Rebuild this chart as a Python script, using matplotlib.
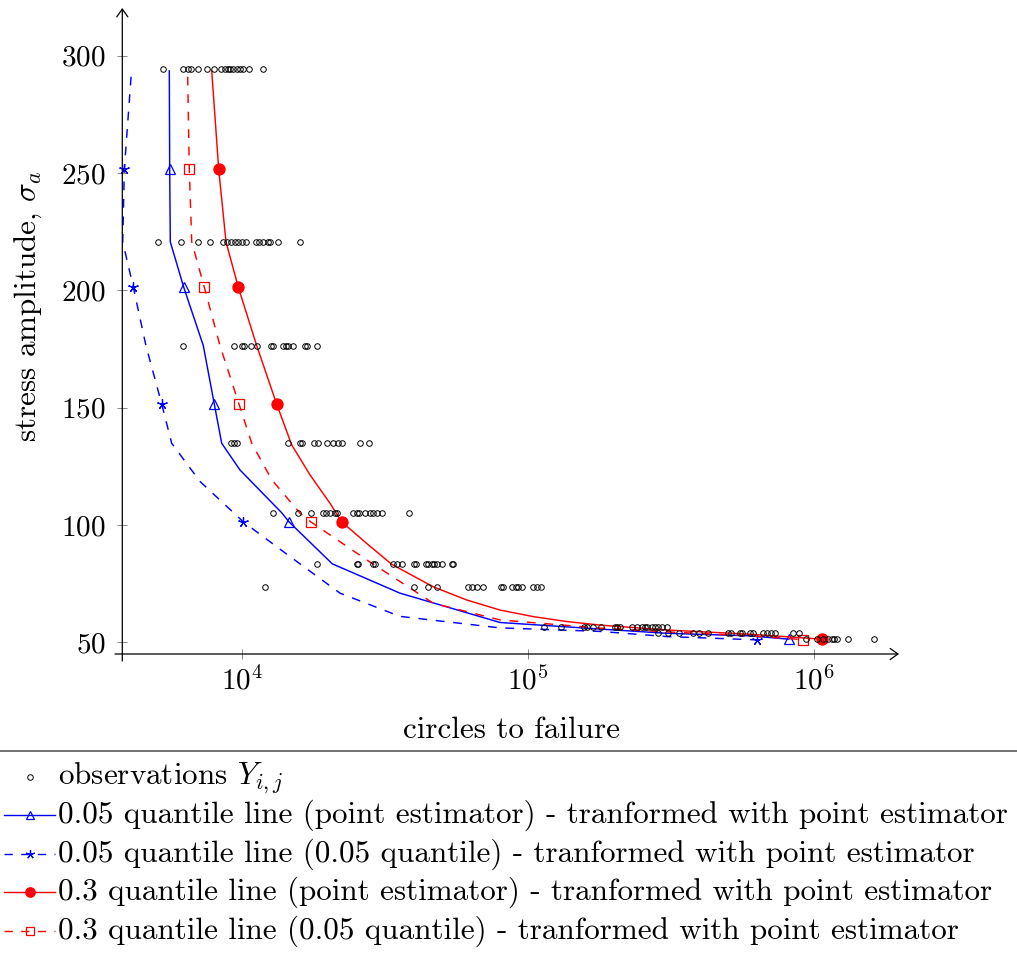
import matplotlib
matplotlib.use('Agg')
import matplotlib.pyplot as plt
from matplotlib.lines import Line2D
from matplotlib.ticker import NullLocator

plt.rcParams['font.family'] = 'serif'
plt.rcParams['font.serif'] = ['cmr10']
plt.rcParams['mathtext.fontset'] = 'cm'
plt.rcParams['axes.formatter.use_mathtext'] = True
plt.rcParams['font.size'] = 22

# ---------------- data ----------------
obs_levels = [294.5, 220.6, 176.4, 134.8, 105.2, 83.2, 73.6, 56.4, 54.0, 51.3]
obs_294 = [5290, 6216, 6440, 6600, 6980, 7505, 7980, 8420, 8700, 8890, 9060, 9300, 9560, 9815, 10080, 10550, 11845]
obs_220 = [5080, 6100, 6980, 7700, 8580, 8860, 9130, 9430, 9680, 10000, 10300, 11170, 11470, 11845, 12330, 12500, 13370, 15920]
obs_176 = [6185, 9375, 9950, 10140, 10725, 11280, 12570, 12780, 13920, 14190, 14490, 15085, 16580, 16890, 18220]
obs_135 = [9130, 9350, 9605, 14490, 15920, 16140, 17870, 18360, 19740, 20820, 21680, 22280, 25820, 27770]
obs_105 = [12780, 15630, 17400, 19110, 19630, 20280, 21110, 21400, 24460, 25140, 25610, 26880, 27990, 28740, 29690, 30900, 38320]
obs_84 = [18220, 25140, 25470, 28740, 29140, 33600, 34700, 36300, 39900, 40550, 43850, 44780, 46030, 46880, 47900, 49890, 54050, 54780]
obs_74 = [12010, 39990, 44780, 47900, 61800, 63830, 66130, 69750, 80460, 81960, 87700, 90570, 92470, 95060, 104350, 107200, 111050]
obs_56 = [113760, 130130, 157040, 160500, 169300, 179700, 201600, 205400, 209900, 230700, 240300, 250000, 256700, 261600, 271000, 278300, 285800, 293800, 307300]
obs_54 = [284400, 308300, 337700, 378900, 396800, 427600, 502400, 513300, 552100, 562300, 598400, 611600, 666300, 684800, 707200, 732000, 848300, 890500]
obs_52 = [939800, 1029000, 1080000, 1125000, 1156000, 1178000, 1204000, 1321000, 1630000]
obs_rows = [obs_294, obs_220, obs_176, obs_135, obs_105, obs_84, obs_74, obs_56, obs_54, obs_52]

# 0.05 quantile line (point estimator)
q05_pe_x = [5553, 5570, 5598, 6237, 7303, 7980, 8470, 9815, 13730, 14570, 20650, 35650, 79800, 178600, 305900, 598400, 817600]
q05_pe_y = [293.5, 251.5, 220.6, 201.3, 176.4, 151.5, 134.8, 123.4, 105.2, 101.3, 83.4, 70.9, 58.4, 55.6, 53.8, 52.7, 51.3]
q05_pe_marks = [1, 3, 5, 9, 16]
# 0.05 quantile line (0.05 quantile)
q05_q05_x = [4081, 3864, 3815, 4155, 4600, 5224, 5660, 7112, 10080, 13918, 21980, 35650, 79800, 178600, 305900, 633200]
q05_q05_y = [291.0, 251.5, 220.6, 201.3, 176.4, 151.5, 134.8, 118.5, 101.3, 88.6, 70.9, 61.0, 56.1, 54.6, 52.4, 51.0]
q05_q05_marks = [1, 3, 5, 8, 15]
# 0.3 quantile line (point estimator)
q30_pe_x = [7816, 8270, 8770, 9683, 11230, 13190, 14890, 17260, 20280, 22280, 27250, 33340, 46620, 61000, 79800, 104400, 136600, 178600, 305900, 598400, 1067000]
q30_pe_y = [293.5, 251.5, 220.6, 201.3, 176.4, 151.5, 134.1, 121.3, 109.2, 101.3, 92.1, 83.2, 73.6, 68.0, 63.7, 60.9, 58.8, 57.3, 55.2, 53.4, 51.3]
q30_pe_marks = [1, 3, 5, 9, 20]
# 0.3 quantile line (0.05 quantile)
q30_q05_x = [6440, 6523, 6653, 7362, 8354, 9737, 10790, 12680, 15920, 17360, 27250, 46620, 79800, 178600, 305900, 598400, 919500]
q30_q05_y = [291.0, 251.5, 220.6, 201.3, 176.4, 151.5, 134.8, 119.2, 105.0, 101.3, 85.1, 66.6, 59.5, 56.0, 54.4, 52.7, 51.1]
q30_q05_marks = [1, 3, 5, 9, 16]

x_ticks = [1e4, 1e5, 1e6]
y_ticks = [50, 100, 150, 200, 250, 300]

legend_labels = [r'observations $Y_{i,j}$',
                 '0.05 quantile line (point estimator) - tranformed with point estimator',
                 '0.05 quantile line (0.05 quantile) - tranformed with point estimator',
                 '0.3 quantile line (point estimator) - tranformed with point estimator',
                 '0.3 quantile line (0.05 quantile) - tranformed with point estimator']

# ---------------- figure ----------------
W, H = 1017, 956
FS = 22.4
fig = plt.figure(figsize=(W / 100, H / 100), dpi=100)


def fx(px):
    return px / W


def fy(py):
    return 1 - py / H


ax = fig.add_axes([fx(122.3), fy(654), fx(899) - fx(122.3), fy(8) - fy(654)])
ax.set_xscale('log')
ax.set_xlim(3802, 1.9885e6)
ax.set_ylim(44.97, 320.3)
for s in ax.spines.values():
    s.set_visible(False)
ax.patch.set_visible(False)

BLUE = '#0000ff'
RED = '#ff0000'
star = (5, 2, 0)

styles = [
    dict(color=BLUE, ls='-', marker='^', ms=6.8, mfc='none', mec=BLUE),
    dict(color=BLUE, ls=(0, (6, 6)), marker=star, ms=7.5, mfc=BLUE, mec=BLUE),
    dict(color=RED, ls='-', marker='o', ms=8.0, mfc=RED, mec=RED),
    dict(color=RED, ls=(0, (6, 6)), marker='s', ms=7.6, mfc='none', mec=RED),
]

series = [(q05_pe_x, q05_pe_y, q05_pe_marks),
          (q05_q05_x, q05_q05_y, q05_q05_marks),
          (q30_pe_x, q30_pe_y, q30_pe_marks),
          (q30_q05_x, q30_q05_y, q30_q05_marks)]

for (xs, ys, mk), st in zip(series, styles):
    ax.plot(xs, ys, lw=1.05, markevery=mk, mew=0.9, clip_on=False, zorder=3, **st)

for lev, row in zip(obs_levels, obs_rows):
    ax.plot(row, [lev] * len(row), ls='none', marker='o', ms=4.0, mfc='none',
            mec='black', mew=0.7, zorder=4, clip_on=False)

# axis lines with arrows
arrow = dict(arrowstyle='->,head_length=0.35,head_width=0.25', lw=0.9, color='black',
             shrinkA=0, shrinkB=0, mutation_scale=16)
ax.annotate('', xy=(1, 0), xytext=(-0.0094, 0), xycoords='axes fraction', arrowprops=arrow,
            annotation_clip=False)
ax.annotate('', xy=(0, 1), xytext=(0, -0.0108), xycoords='axes fraction', arrowprops=arrow,
            annotation_clip=False)

ax.set_xticks(x_ticks)
ax.set_yticks(y_ticks)
ax.xaxis.set_minor_locator(NullLocator())
ax.yaxis.set_minor_locator(NullLocator())
ax.tick_params(which='major', direction='inout', length=7.9, width=0.6, color='0.45',
               labelsize=21)
ax.tick_params(axis='y', pad=7.8)
ax.tick_params(axis='x', pad=4.5)

fig.text(fx(511), fy(738), 'circles to failure', ha='center', va='baseline', fontsize=FS)
fig.text(fx(28), fy(306), r'stress amplitude, $\sigma_a$', ha='center', va='center',
         rotation=90, fontsize=FS)

# ---------------- legend (drawn below axes, cropped box) ----------------
fig.add_artist(Line2D([0, 1], [fy(751), fy(751)], transform=fig.transFigure,
                      color='0.35', lw=1.2))
baselines = [784.5, 823, 861.5, 900, 938.5]
for i, (lab, b) in enumerate(zip(legend_labels, baselines)):
    fig.text(fx(58), fy(b), lab, ha='left', va='baseline', fontsize=FS)
    yc = fy(b - 8)
    if i == 0:
        fig.add_artist(Line2D([fx(29.5)], [yc], transform=fig.transFigure, ls='none',
                              marker='o', ms=4.0, mfc='none', mec='black', mew=0.7))
    else:
        st = dict(styles[i - 1])
        fig.add_artist(Line2D([fx(4), fx(55)], [yc, yc], transform=fig.transFigure,
                              lw=1.0, color=st['color'], ls=st['ls']))
        fig.add_artist(Line2D([fx(29.5)], [yc], transform=fig.transFigure, ls='none',
                              marker=st['marker'], ms=st['ms'] * 0.85, mfc=st['mfc'],
                              mec=st['mec'], mew=0.9))

fig.savefig('out.png', dpi=100)
